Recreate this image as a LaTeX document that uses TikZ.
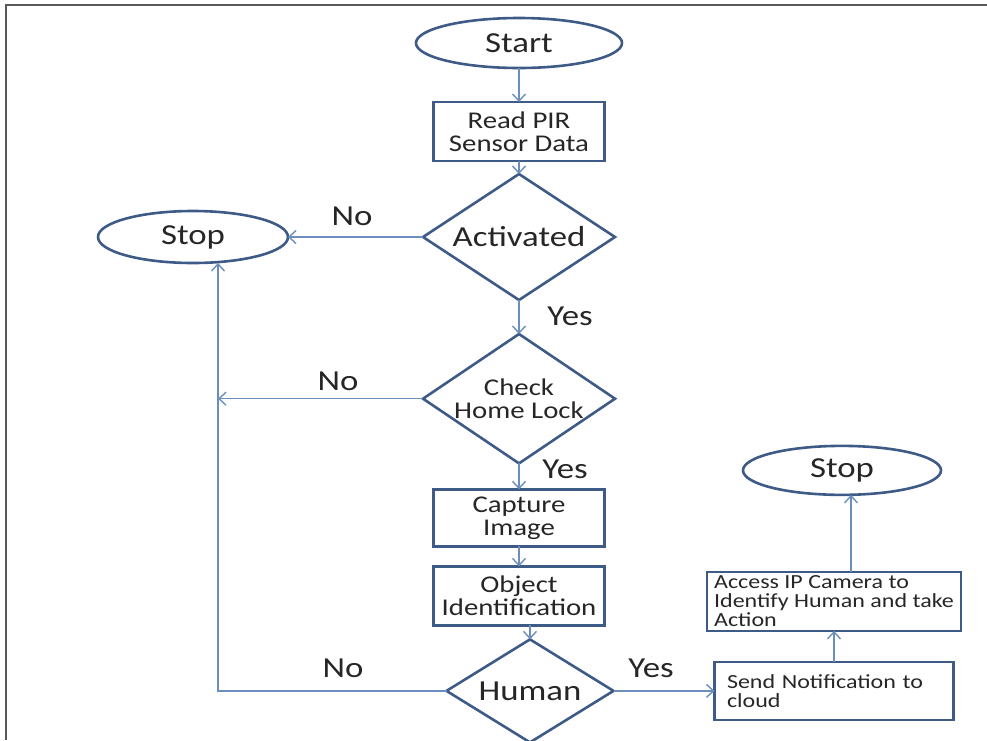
\documentclass[tikz,border=0pt]{standalone}
\usepackage{fontspec}
\setmainfont{Carlito}[FakeStretch=1.2]
\usetikzlibrary{arrows.meta,positioning,shapes.geometric}
\definecolor{shapeblue}{HTML}{3E5A86}
\definecolor{lineblue}{HTML}{6C8EBF}
\definecolor{textgray}{HTML}{262626}

\begin{document}
\begin{tikzpicture}[x=1pt,y=-1pt,
    font=\fontsize{24}{23}\selectfont, text=textgray,
    terminal/.style={ellipse, draw=shapeblue, line width=2.6pt, outer sep=0pt,
        minimum width=198pt, minimum height=49pt, inner sep=0pt,
        font=\fontsize{29}{34}\selectfont},
    process/.style={rectangle, draw=shapeblue, line width=2.6pt, outer sep=0pt,
        minimum width=171pt, minimum height=59pt, align=center, inner sep=2pt},
    decision/.style={diamond, draw=shapeblue, line width=2.6pt, outer sep=0pt,
        minimum width=192pt, minimum height=126pt, inner sep=-10pt, align=center},
    note/.style={rectangle, draw=shapeblue, line width=2.6pt, outer sep=0pt,
        align=left, font=\fontsize{20}{19}\selectfont},
    answer/.style={font=\fontsize{29}{34}\selectfont},
    flow/.style={draw=lineblue, line width=1.4pt, -{Straight Barb[length=7pt,width=13pt]}},
  ]
  \useasboundingbox (0,0) rectangle (987,740);
  \draw [line width=2pt, draw=black!65] (987,5) -- (6,5) -- (6,740);

  % main column
  \node (start) [terminal, minimum width=206pt, minimum height=50pt] at (519,43) {Start};
  \node (read) [process, below=34pt of start] {Read PIR\\Sensor Data};
  \node (activated) [decision, below=13pt of read, font=\fontsize{29}{34}\selectfont] {Activated};
  \node (check) [decision, below=34pt of activated] {Check\\Home Lock};
  \node (capture) [process, below=26pt of check, minimum height=57pt] {Capture\\Image};
  \node (object) [process, below=20pt of capture] {Object\\Identification};
  \node (human) [decision, below=14pt of object, xshift=11pt, minimum width=167pt,
      minimum height=103pt, font=\fontsize{29}{34}\selectfont] {Human};

  % side branches
  \node (stop1) [terminal, left=135pt of activated, minimum width=190pt, minimum height=52pt] {Stop};
  \node (send) [note, right=101pt of human, minimum width=239pt, minimum height=58pt,
      text width=214pt] {Send Notification to\\cloud};
  \node (access) [note, above=31pt of send, minimum width=254pt, minimum height=59pt]
      {Access IP Camera to\\Identify Human and take\\Action};
  \node (stop2) [terminal, above=77pt of access, xshift=8pt] {Stop};

  \node (noact) [answer] at (352,216) {No};
  \node (yesact) [answer] at (570,316) {Yes};
  \node (nocheck) [answer] at (338,381) {No};
  \node (yescheck) [answer] at (565,469) {Yes};
  \node (nohuman) [answer] at (343,668) {No};
  \node (yeshuman) [answer] at (651,668) {Yes};

  \coordinate (trunk) at (218,0);

  \draw [flow] (start) -- (read);
  \draw [flow] (read) -- (activated);
  \draw [flow] (activated) -- (check);
  \draw [flow] (check) -- (capture);
  \draw [flow] (capture) -- (object);
  \draw [flow] (object.south -| human.north) -- (human.north);
  \draw [flow] (activated.west) -- (stop1.east);
  \draw [flow] (human.west) -| (stop1.south -| trunk);
  \draw [flow] (check.west) -- (check.west -| trunk);
  \draw [flow] (human.east) -- (human.east -| send.west);
  \draw [flow] (send) -- (access);
  \draw [flow] ([xshift=17pt]access.north) -- ([xshift=17pt]access.north |- stop2.south);
\end{tikzpicture}
\end{document}
